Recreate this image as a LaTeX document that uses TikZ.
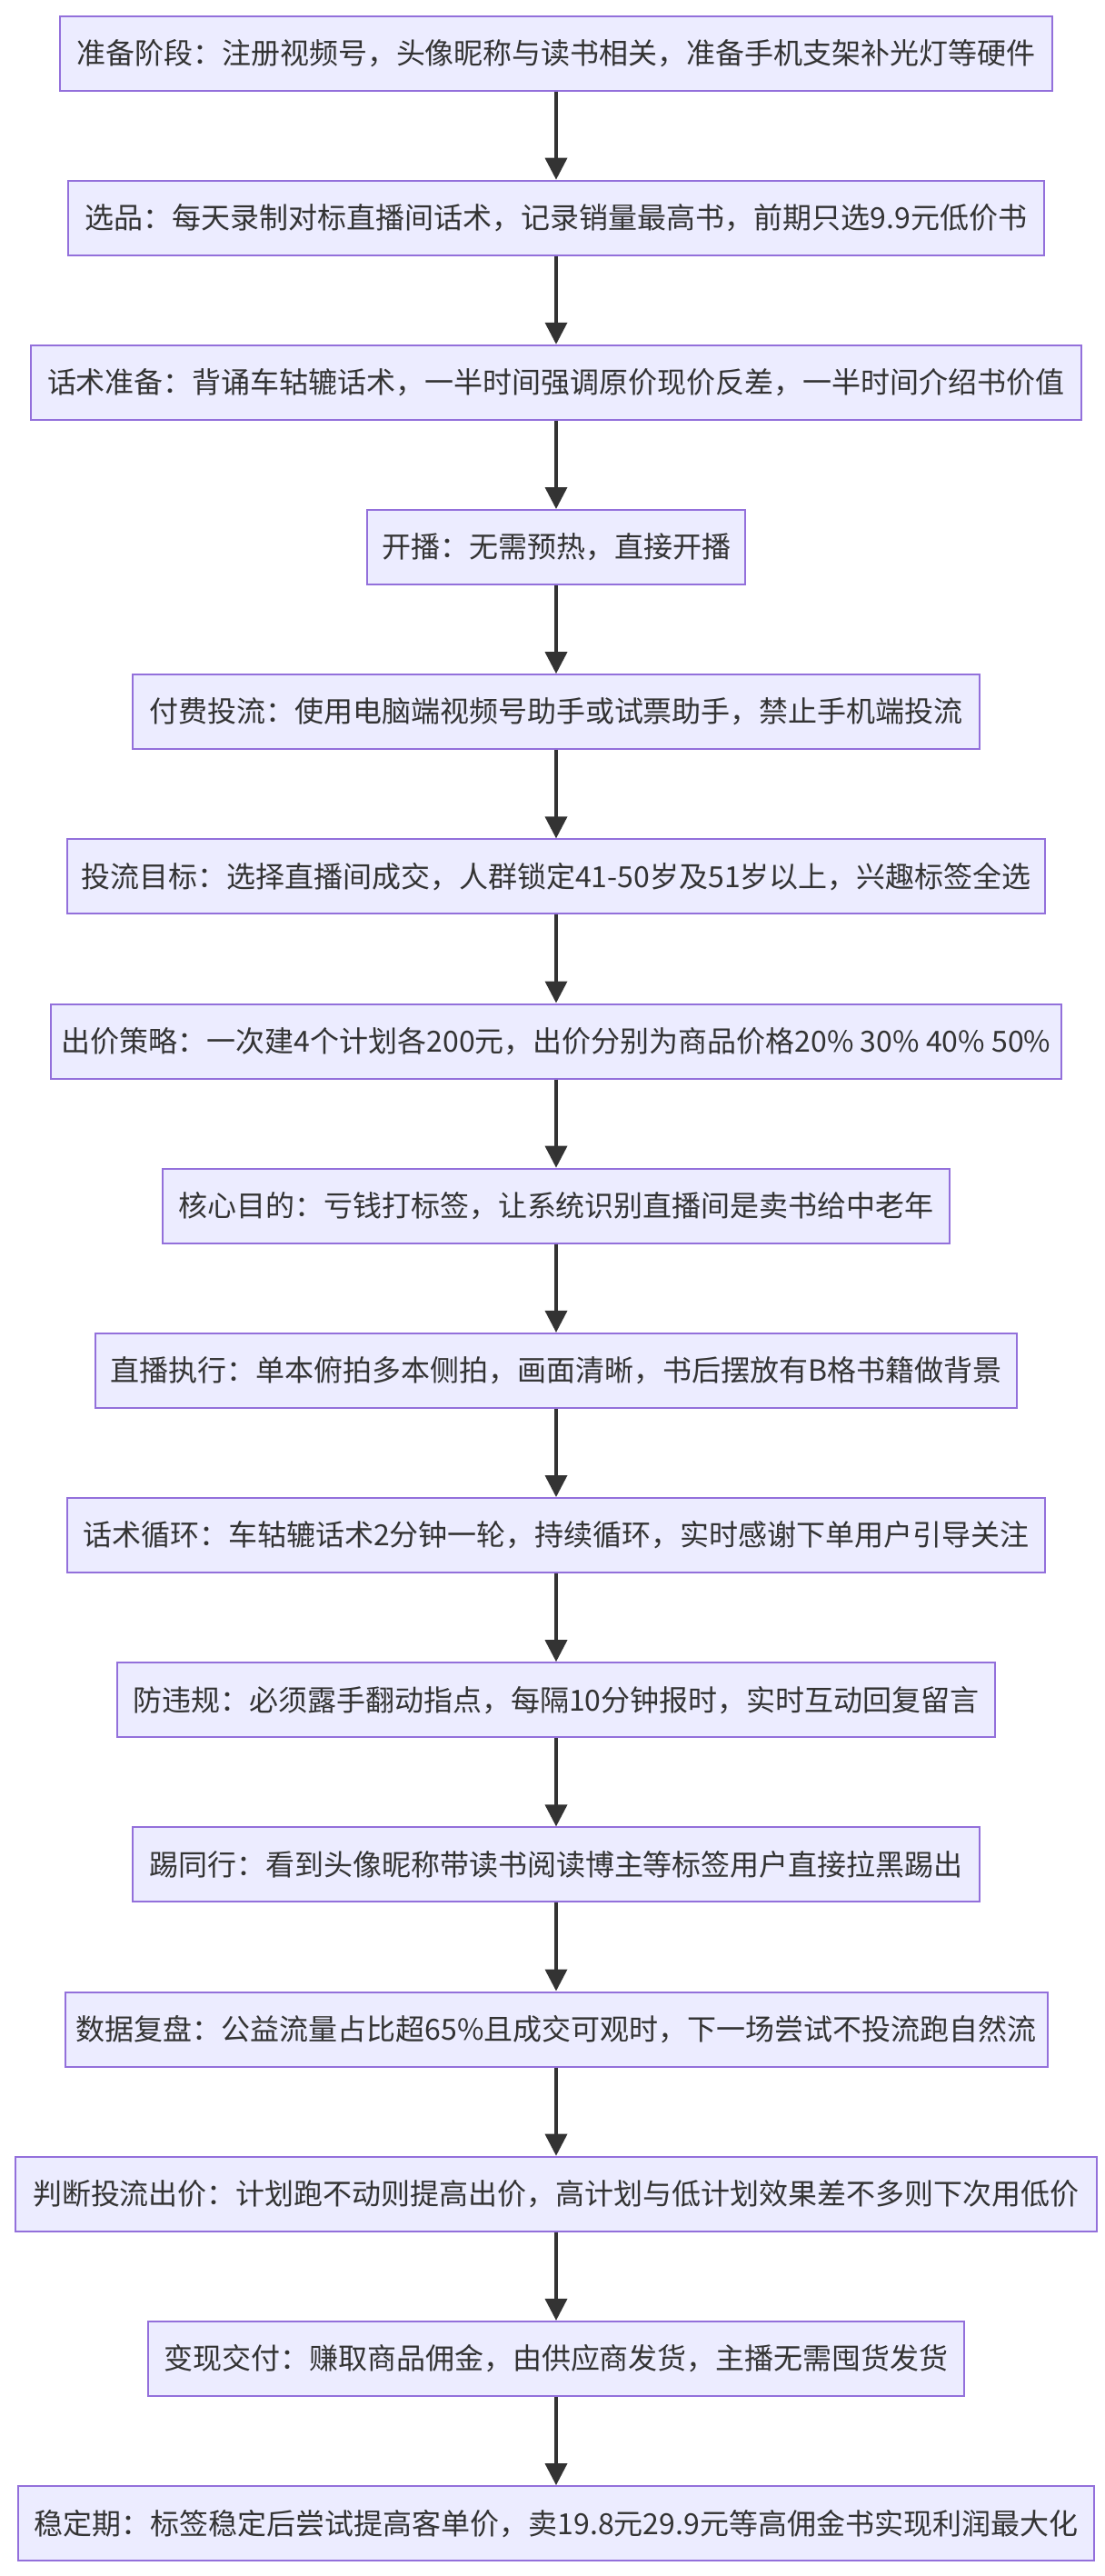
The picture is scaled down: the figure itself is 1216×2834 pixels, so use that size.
\documentclass[tikz,border=0pt]{standalone}
\usepackage{fontspec}
\setmainfont{Noto Sans CJK SC}
\usepackage{xcolor}
\usepackage{tikz}
\usetikzlibrary{arrows.meta}
\definecolor{mfill}{HTML}{ECECFF}
\definecolor{mline}{HTML}{9370DB}
\definecolor{mtext}{HTML}{333333}

\begin{document}
\begin{tikzpicture}[x=0.5pt, y=-0.5pt,
  stepbox/.style={draw=mline, fill=mfill, line width=1pt, text=mtext,
    font=\fontsize{16pt}{19pt}\selectfont, minimum height=41pt, inner xsep=6pt, inner ysep=0pt},
  flow/.style={draw=mtext, line width=1.8pt, -{Triangle[length=12pt, width=12pt]}}]
\useasboundingbox (0,0) rectangle (1216,2834);
\node[stepbox, minimum width=546pt] (prep) at (612,58.5) {准备阶段：注册视频号，头像昵称与读书相关，准备手机支架补光灯等硬件};
\node[stepbox, minimum width=537pt] (pick) at (612,239.7) {选品：每天录制对标直播间话术，记录销量最高书，前期只选9.9元低价书};
\node[stepbox, minimum width=578pt] (script) at (612,420.8) {话术准备：背诵车轱辘话术，一半时间强调原价现价反差，一半时间介绍书价值};
\node[stepbox, minimum width=208pt] (golive) at (612,602.0) {开播：无需预热，直接开播};
\node[stepbox, minimum width=466pt] (paid) at (612,783.2) {付费投流：使用电脑端视频号助手或试票助手，禁止手机端投流};
\node[stepbox, minimum width=538pt] (target) at (612,964.4) {投流目标：选择直播间成交，人群锁定41-50岁及51岁以上，兴趣标签全选};
\node[stepbox, minimum width=540pt] (bid) at (612,1145.5) {出价策略：一次建4个计划各200元，出价分别为商品价格20\% 30\% 40\% 50\%};
\node[stepbox, minimum width=433pt] (goal) at (612,1326.7) {核心目的：亏钱打标签，让系统识别直播间是卖书给中老年};
\node[stepbox, minimum width=507pt] (exec) at (612,1507.9) {直播执行：单本俯拍多本侧拍，画面清晰，书后摆放有B格书籍做背景};
\node[stepbox, minimum width=538pt] (loop) at (612,1689.0) {话术循环：车轱辘话术2分钟一轮，持续循环，实时感谢下单用户引导关注};
\node[stepbox, minimum width=483pt] (rules) at (612,1870.2) {防违规：必须露手翻动指点，每隔10分钟报时，实时互动回复留言};
\node[stepbox, minimum width=466pt] (kick) at (612,2051.4) {踢同行：看到头像昵称带读书阅读博主等标签用户直接拉黑踢出};
\node[stepbox, minimum width=540pt] (review) at (612,2232.5) {数据复盘：公益流量占比超65\%且成交可观时，下一场尝试不投流跑自然流};
\node[stepbox, minimum width=595pt] (judge) at (612,2413.7) {判断投流出价：计划跑不动则提高出价，高计划与低计划效果差不多则下次用低价};
\node[stepbox, minimum width=449pt] (cash) at (612,2594.9) {变现交付：赚取商品佣金，由供应商发货，主播无需囤货发货};
\node[stepbox, minimum width=592pt] (stable) at (612,2776.1) {稳定期：标签稳定后尝试提高客单价，卖19.8元29.9元等高佣金书实现利润最大化};
\draw[flow] (prep) -- (pick);
\draw[flow] (pick) -- (script);
\draw[flow] (script) -- (golive);
\draw[flow] (golive) -- (paid);
\draw[flow] (paid) -- (target);
\draw[flow] (target) -- (bid);
\draw[flow] (bid) -- (goal);
\draw[flow] (goal) -- (exec);
\draw[flow] (exec) -- (loop);
\draw[flow] (loop) -- (rules);
\draw[flow] (rules) -- (kick);
\draw[flow] (kick) -- (review);
\draw[flow] (review) -- (judge);
\draw[flow] (judge) -- (cash);
\draw[flow] (cash) -- (stable);
\end{tikzpicture}
\end{document}
